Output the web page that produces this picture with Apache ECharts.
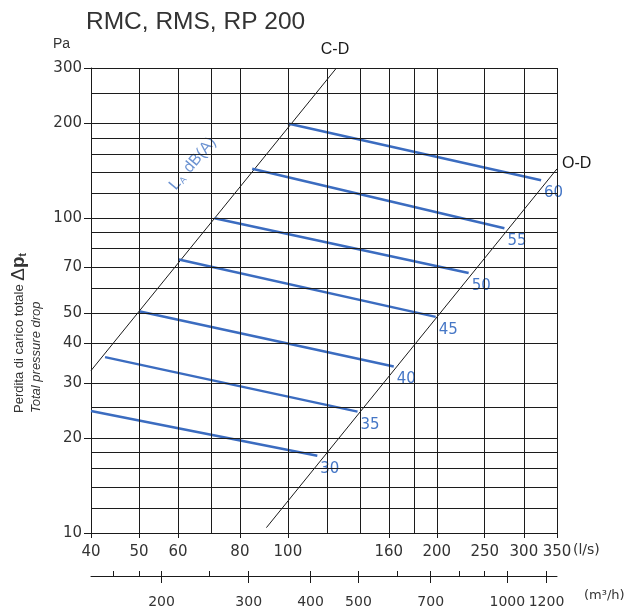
<!DOCTYPE html>
<html>
<head>
<meta charset="utf-8">
<script src="https://cdn.jsdelivr.net/npm/echarts@6/dist/echarts.min.js"></script>
<style>
  html, body { margin: 0; padding: 0; background: #fff; }
  #chart { width: 637px; height: 614px; }
</style>
</head>
<body>
<div id="chart"></div>
<script>
// Airflow (l/s) and total pressure drop (Pa) scales
const flowTicks = [40, 50, 60, 80, 100, 160, 200, 250, 300, 350];
const flowGrid = [50, 60, 70, 80, 100, 120, 140, 160, 180, 200, 250, 300, 350];
const pressureTicks = [10, 20, 30, 40, 50, 70, 100, 200, 300];
const pressureGrid = [12, 14, 16, 18, 20, 25, 30, 40, 50, 60, 70, 80, 90, 100, 120, 140, 160, 180, 200, 250, 300];

// Secondary airflow scale in m³/h
const m3hMajor = [200, 300, 400, 500, 700, 1000, 1200];
const m3hMinor = [160, 180, 250, 600, 800, 900];

// Sound level lines L_A dB(A): start and end points [l/s, Pa]
const soundLevels = ['30', '35', '40', '45', '50', '55', '60'];
const levelStart = [[40, 24.4], [42.7, 36.2], [50, 50.6], [60.2, 73.9], [71.1, 100], [84.7, 143.5], [100, 200]];
const levelEnd = [[114.7, 17.6], [138.3, 24.3], [163.7, 33.8], [199, 48.6], [232, 67], [274, 92.9], [325, 132]];

// Operating limits: closed damper (C-D) and open damper (O-D)
const lineCD = [[40, 32.8], [125.4, 300]];
const lineOD = [[90.5, 10.4], [350, 143.5]];

const BLUE = '#3b6cc0';
const BLUE_TEXT = '#4677c6';
const INK = '#1a1a1a';
const NUM_FONT = 'DejaVu Sans';
const TXT_FONT = 'Liberation Sans';

const plainNumber = v => String(v);

const chart = echarts.init(document.getElementById('chart'), null, { renderer: 'canvas' });

const gridLineStyle = { color: '#1c1c1c', width: 1, type: 'solid' };

const series = [];

series.push({
  type: 'line',
  name: 'C-D',
  data: lineCD,
  symbol: 'none',
  silent: true,
  z: 2,
  lineStyle: { color: INK, width: 1 },
  markLine: {
    silent: true,
    symbol: ['none', 'none'],
    label: { show: false },
    lineStyle: gridLineStyle,
    emphasis: { disabled: true },
    animation: false,
    data: flowGrid.map(v => ({ xAxis: v })).concat(pressureGrid.map(v => ({ yAxis: v })))
  }
});

series.push({
  type: 'line',
  name: 'O-D',
  data: lineOD,
  symbol: 'none',
  silent: true,
  z: 2,
  lineStyle: { color: INK, width: 1 }
});

soundLevels.forEach((lv, i) => {
  series.push({
    type: 'line',
    name: lv,
    data: [levelStart[i], levelEnd[i]],
    symbol: 'none',
    silent: true,
    z: 3,
    lineStyle: { color: BLUE, width: 2.5 },
    endLabel: {
      show: true,
      formatter: () => lv,
      color: BLUE_TEXT,
      fontFamily: NUM_FONT,
      fontSize: 15,
      distance: 3,
      offset: [0, 13]
    }
  });
});

// L_A dB(A) caption along the C-D line
const captionAt = [64.2, 149];
series.push({
  type: 'scatter',
  data: [captionAt],
  symbolSize: 0,
  silent: true,
  z: 4,
  label: {
    show: true,
    position: 'inside',
    rotate: 50,
    formatter: '{l|L}{s|A}{l| dB(A)}',
    rich: {
      l: { fontFamily: TXT_FONT, fontSize: 16, color: BLUE_TEXT },
      s: { fontFamily: TXT_FONT, fontSize: 9, color: BLUE_TEXT, verticalAlign: 'bottom', padding: [6, 2, 0, 1] }
    }
  }
});

const option = {
  animation: false,
  backgroundColor: '#ffffff',
  title: {
    text: 'RMC, RMS, RP 200',
    left: 81,
    top: 5,
    textStyle: { fontFamily: TXT_FONT, fontSize: 24.5, fontWeight: 'normal', color: '#333333' }
  },
  grid: { left: 91, right: 80, top: 68, bottom: 81, containLabel: false },
  xAxis: [
    {
      type: 'log',
      logBase: 10,
      min: 40,
      max: 350,
      position: 'bottom',
      axisLine: { show: true, lineStyle: { color: INK, width: 1 } },
      axisTick: { show: true, customValues: flowTicks, length: 5, lineStyle: { color: INK } },
      axisLabel: { show: true, customValues: flowTicks, formatter: plainNumber, margin: 12, fontFamily: NUM_FONT, fontSize: 15, color: '#333' },
      splitLine: { show: false },
      minorTick: { show: false },
      minorSplitLine: { show: false }
    },
    {
      type: 'log',
      logBase: 10,
      min: 144,
      max: 1260,
      position: 'bottom',
      offset: 43,
      axisLine: { show: true, lineStyle: { color: INK, width: 1 } },
      axisTick: { show: true, inside: true, customValues: m3hMajor.concat(m3hMinor), length: 5, lineStyle: { color: INK } },
      axisLabel: { show: true, customValues: m3hMajor, formatter: plainNumber, margin: 19, fontFamily: NUM_FONT, fontSize: 14, color: '#333', hideOverlap: false },
      splitLine: { show: false }
    },
    {
      type: 'log',
      logBase: 10,
      min: 144,
      max: 1260,
      position: 'bottom',
      offset: 43,
      axisLine: { show: false },
      axisTick: { show: true, inside: false, customValues: m3hMajor, length: 7, lineStyle: { color: INK } },
      axisLabel: { show: false },
      splitLine: { show: false }
    }
  ],
  yAxis: {
    type: 'log',
    logBase: 10,
    min: 10,
    max: 300,
    axisLine: { show: true, lineStyle: { color: INK, width: 1 } },
    axisTick: { show: true, customValues: pressureTicks, length: 7, lineStyle: { color: INK } },
    axisLabel: { show: true, customValues: pressureTicks, formatter: plainNumber, margin: 9, fontFamily: NUM_FONT, fontSize: 15, color: '#333' },
    splitLine: { show: false },
    minorTick: { show: false },
    minorSplitLine: { show: false }
  },
  graphic: [
    { type: 'text', left: 53, top: 37, style: { text: 'Pa', fontFamily: TXT_FONT, fontSize: 14, fill: '#333' } },
    { type: 'text', x: 335, y: 50, style: { text: 'C-D', fontFamily: TXT_FONT, fontSize: 16, fill: INK, align: 'center', verticalAlign: 'middle' } },
    { type: 'text', x: 562, y: 164, style: { text: 'O-D', fontFamily: TXT_FONT, fontSize: 16, fill: INK, align: 'left', verticalAlign: 'middle' } },
    { type: 'text', x: 573, y: 550, style: { text: '(l/s)', fontFamily: NUM_FONT, fontSize: 14, fill: '#333', align: 'left', verticalAlign: 'middle' } },
    { type: 'text', x: 584, y: 596, style: { text: '(m³/h)', fontFamily: NUM_FONT, fontSize: 13, fill: '#333', align: 'left', verticalAlign: 'middle' } },
    {
      type: 'text', x: 19, y: 413, rotation: Math.PI / 2,
      style: {
        text: '{n|Perdita di carico totale }{d|Δ}{p|p}{t|t}',
        align: 'left', verticalAlign: 'middle',
        rich: {
          n: { fontFamily: TXT_FONT, fontSize: 13, fill: '#333' },
          d: { fontFamily: TXT_FONT, fontSize: 19, fill: '#333' },
          p: { fontFamily: TXT_FONT, fontSize: 19, fontWeight: 'bold', fill: '#333' },
          t: { fontFamily: TXT_FONT, fontSize: 10, fontWeight: 'bold', fill: '#333', verticalAlign: 'bottom' }
        }
      }
    },
    {
      type: 'text', x: 36, y: 413, rotation: Math.PI / 2,
      style: { text: 'Total pressure drop', fontFamily: TXT_FONT, fontSize: 13, fontStyle: 'italic', fill: '#333', align: 'left', verticalAlign: 'middle' }
    }
  ],
  series: series
};

chart.setOption(option);
</script>
</body>
</html>
